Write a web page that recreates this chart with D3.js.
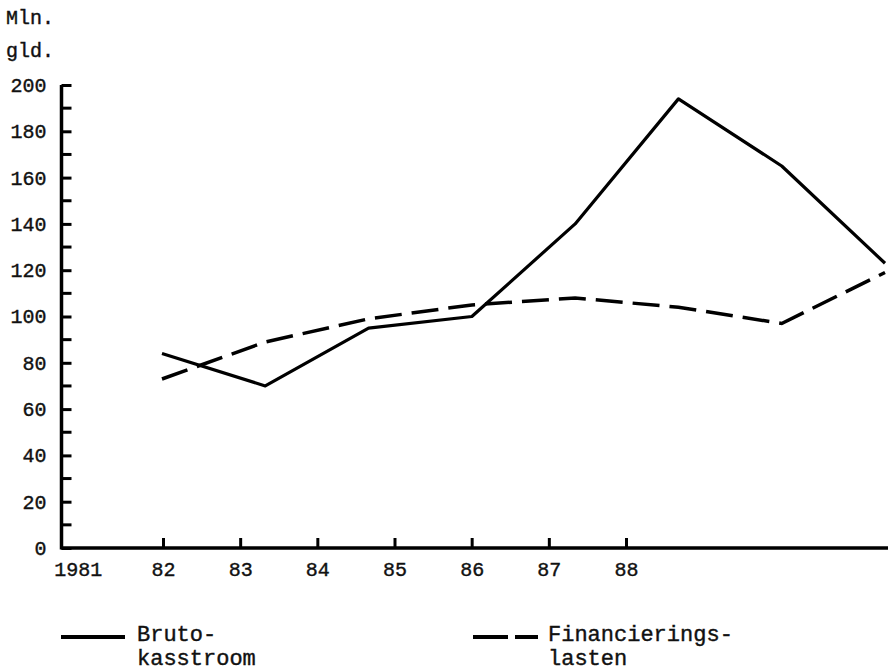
<!DOCTYPE html>
<html>
<head>
<meta charset="utf-8">
<script src="https://cdn.jsdelivr.net/npm/d3@7"></script>
<style>
  body { margin: 0; background: #fff; }
  svg { display: block; }
  text { font-family: "Liberation Mono", "DejaVu Sans Mono", monospace; fill: #111; stroke: #111; stroke-width: 0.4px; }
</style>
</head>
<body>
<div id="chart"></div>
<script>
const width = 888;
const height = 672;

// data (Mln. gld.)
const years = [1982, 1983, 1984, 1985, 1986, 1987, 1988, 1989];
const brutoKasstroom = [84, 70, 95, 100, 140, 194, 165, 123];
const financieringslasten = [73, 89, 99, 105, 108, 104, 97, 119];
const tickYears = [1981, 1982, 1983, 1984, 1985, 1986, 1987, 1988];
const yTicks = [0, 20, 40, 60, 80, 100, 120, 140, 160, 180, 200];
const yMinorTicks = [10, 30, 50, 70, 90, 110, 130, 150, 170, 190];

const svg = d3.select("#chart").append("svg")
    .attr("width", width)
    .attr("height", height);

const axisX = 61.5;
const y = d3.scaleLinear().domain([0, 200]).range([548, 85]);
// the plotted points are spaced wider than the year labels on the axis
const x = d3.scaleLinear().domain([1982, 1989]).range([162, 885]);
const xTick = d3.scaleLinear().domain([1982, 1988]).range([163, 626]);

// y axis
const yAxis = svg.append("g")
    .attr("transform", `translate(${axisX},0)`)
    .call(d3.axisLeft(y).tickValues(yTicks).tickSize(-10).tickPadding(15));
yAxis.select(".domain").remove();
yAxis.selectAll(".tick line").attr("stroke", "#000").attr("stroke-width", 3);
yAxis.selectAll(".tick text").style("font-size", "20px").attr("fill", "#111");

svg.append("g")
    .selectAll("line")
    .data(yMinorTicks)
    .join("line")
      .attr("x1", axisX).attr("x2", axisX + 10)
      .attr("y1", d => y(d)).attr("y2", d => y(d))
      .attr("stroke", "#000").attr("stroke-width", 3);

svg.append("line")
    .attr("x1", axisX).attr("x2", axisX)
    .attr("y1", y(200)).attr("y2", y(0) + 1.5)
    .attr("stroke", "#000").attr("stroke-width", 3.5);

// x axis
const xAxis = svg.append("g")
    .attr("transform", `translate(0,${y(0)})`)
    .call(d3.axisBottom(xTick)
      .tickValues(tickYears)
      .tickFormat(d => d === 1981 ? "1981" : String(d).slice(2))
      .tickSize(-10).tickPadding(14));
xAxis.select(".domain").remove();
xAxis.selectAll(".tick line")
    .attr("stroke", "#000").attr("stroke-width", 3)
    .filter(d => d === 1981).remove();
xAxis.selectAll(".tick text").style("font-size", "20px").attr("fill", "#111")
    .filter(d => d === 1981).attr("dx", -8);

svg.append("line")
    .attr("x1", axisX).attr("x2", x(1989) + 3)
    .attr("y1", y(0)).attr("y2", y(0))
    .attr("stroke", "#000").attr("stroke-width", 3.5);

// unit label
svg.append("text").attr("x", 6).attr("y", 24).style("font-size", "20px").text("Mln.");
svg.append("text").attr("x", 6).attr("y", 57).style("font-size", "20px").text("gld.");

// lines
const line = d3.line().x((d, i) => x(years[i])).y(d => y(d));

svg.append("path")
    .datum(brutoKasstroom)
    .attr("d", line)
    .attr("fill", "none")
    .attr("stroke", "#000")
    .attr("stroke-width", 3.2)
    .attr("stroke-linejoin", "round");

svg.append("path")
    .datum(financieringslasten)
    .attr("d", line)
    .attr("fill", "none")
    .attr("stroke", "#000")
    .attr("stroke-width", 3.5)
    .attr("stroke-dasharray", "27,10");

// legend
const legend = svg.append("g").style("font-size", "22px");
legend.append("line")
    .attr("x1", 61).attr("x2", 125).attr("y1", 637).attr("y2", 637)
    .attr("stroke", "#000").attr("stroke-width", 4);
legend.append("text").attr("x", 137).attr("y", 641).text("Bruto-");
legend.append("text").attr("x", 137).attr("y", 665).text("kasstroom");

legend.append("line")
    .attr("x1", 473).attr("x2", 538).attr("y1", 637).attr("y2", 637)
    .attr("stroke", "#000").attr("stroke-width", 4)
    .attr("stroke-dasharray", "35,7");
legend.append("text").attr("x", 548).attr("y", 641).text("Financierings-");
legend.append("text").attr("x", 548).attr("y", 665).text("lasten");
</script>
</body>
</html>
